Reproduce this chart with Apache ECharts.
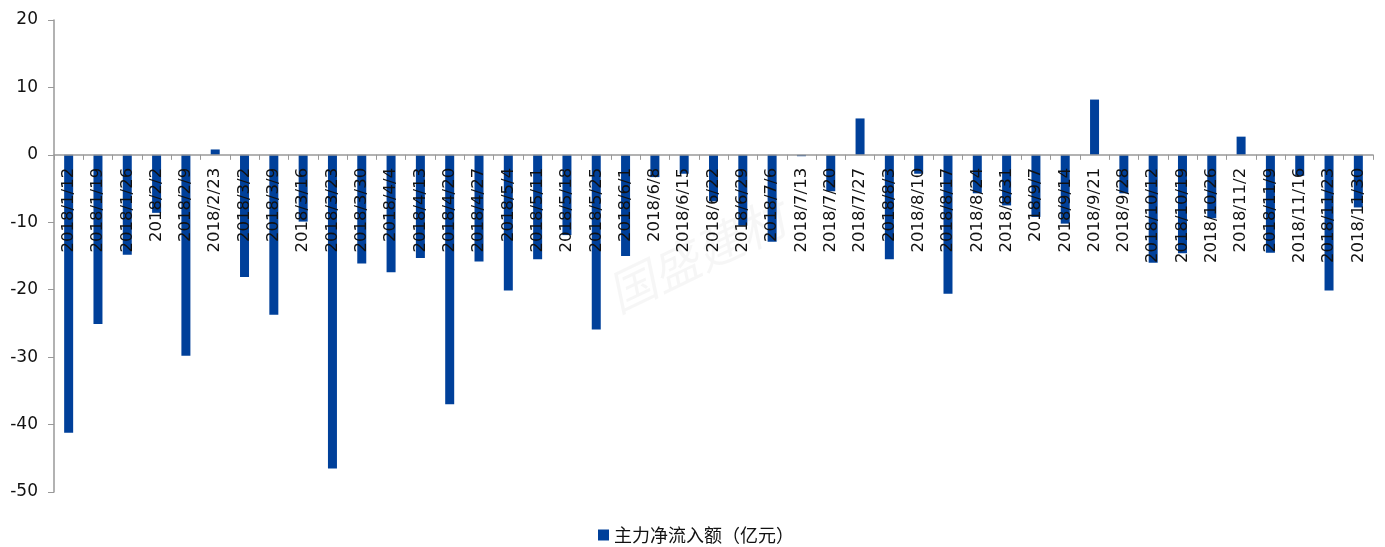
<!DOCTYPE html>
<html>
<head>
<meta charset="utf-8">
<script src="https://cdn.jsdelivr.net/npm/echarts@6/dist/echarts.min.js"></script>
<style>
html,body{margin:0;padding:0;background:#fff;}
#chart{width:1385px;height:547px;}
</style>
</head>
<body>
<div id="chart"></div>
<script>
const categories = ['2018/1/12','2018/1/19','2018/1/26','2018/2/2','2018/2/9','2018/2/23','2018/3/2','2018/3/9','2018/3/16','2018/3/23','2018/3/30','2018/4/4','2018/4/13','2018/4/20','2018/4/27','2018/5/4','2018/5/11','2018/5/18','2018/5/25','2018/6/1','2018/6/8','2018/6/15','2018/6/22','2018/6/29','2018/7/6','2018/7/13','2018/7/20','2018/7/27','2018/8/3','2018/8/10','2018/8/17','2018/8/24','2018/8/31','2018/9/7','2018/9/14','2018/9/21','2018/9/28','2018/10/12','2018/10/19','2018/10/26','2018/11/2','2018/11/9','2018/11/16','2018/11/23','2018/11/30'];
const netInflow = [-41.2,-25.1,-14.8,-8.6,-29.8,0.8,-18.1,-23.7,-9.9,-46.5,-16.1,-17.4,-15.3,-37.0,-15.8,-20.1,-15.5,-11.9,-25.9,-15.0,-3.3,-2.8,-6.9,-10.5,-12.9,-0.2,-5.4,5.4,-15.5,-2.8,-20.6,-5.7,-7.5,-9.2,-10.2,8.2,-5.7,-16.0,-14.6,-9.4,2.7,-14.5,-3.1,-20.1,-7.8];
const seriesName = '主力净流入额（亿元）';
const yMin = -50, yMax = 20, yStep = 10;

const W = 1385, H = 547;
const gridTop = 20, gridBottom = 55;
const plotH = H - gridTop - gridBottom;
// shift the category axis (line, ticks, labels) up to the zero line
const zeroOffset = -plotH * (0 - yMin) / (yMax - yMin);

const chart = echarts.init(document.getElementById('chart'));
chart.setOption({
  animation: false,
  backgroundColor: '#fff',
  grid: {left: 54, right: 12, top: gridTop, bottom: gridBottom, containLabel: false, outerBoundsMode: 'none'},
  graphic: [{
    type: 'text',
    left: 600, top: 192,
    rotation: 0.45,
    z: 0,
    style: {text: '国盛建材', font: 'italic 48px "Noto Sans CJK SC"', fill: 'rgba(0,0,0,0.035)'}
  }],
  legend: {
    data: [seriesName],
    left: 593, top: 521,
    padding: 5,
    itemWidth: 11, itemHeight: 11, itemGap: 10,
    icon: 'rect',
    textStyle: {fontFamily: '"Noto Sans CJK SC"', fontSize: 18, color: '#111'}
  },
  xAxis: {
    type: 'category',
    data: categories,
    position: 'bottom',
    offset: zeroOffset,
    z: 10,
    axisLine: {onZero: false, lineStyle: {color: '#999', width: 1.5}},
    axisTick: {show: true, alignWithLabel: false, length: 5, lineStyle: {color: '#999'}},
    axisLabel: {rotate: 90, interval: 0, margin: 13, fontFamily: '"DejaVu Sans"', fontSize: 16.5, color: '#111'}
  },
  yAxis: {
    type: 'value',
    min: yMin, max: yMax, interval: yStep,
    splitLine: {show: false},
    axisLine: {show: true, lineStyle: {color: '#999', width: 1.5}},
    axisTick: {show: true, length: 6, lineStyle: {color: '#999'}},
    axisLabel: {margin: 16, fontFamily: '"DejaVu Sans"', fontSize: 17, color: '#111'}
  },
  series: [{
    name: seriesName,
    type: 'bar',
    data: netInflow,
    barWidth: 9,
    itemStyle: {color: '#00409A'}
  }]
});
</script>
</body>
</html>
